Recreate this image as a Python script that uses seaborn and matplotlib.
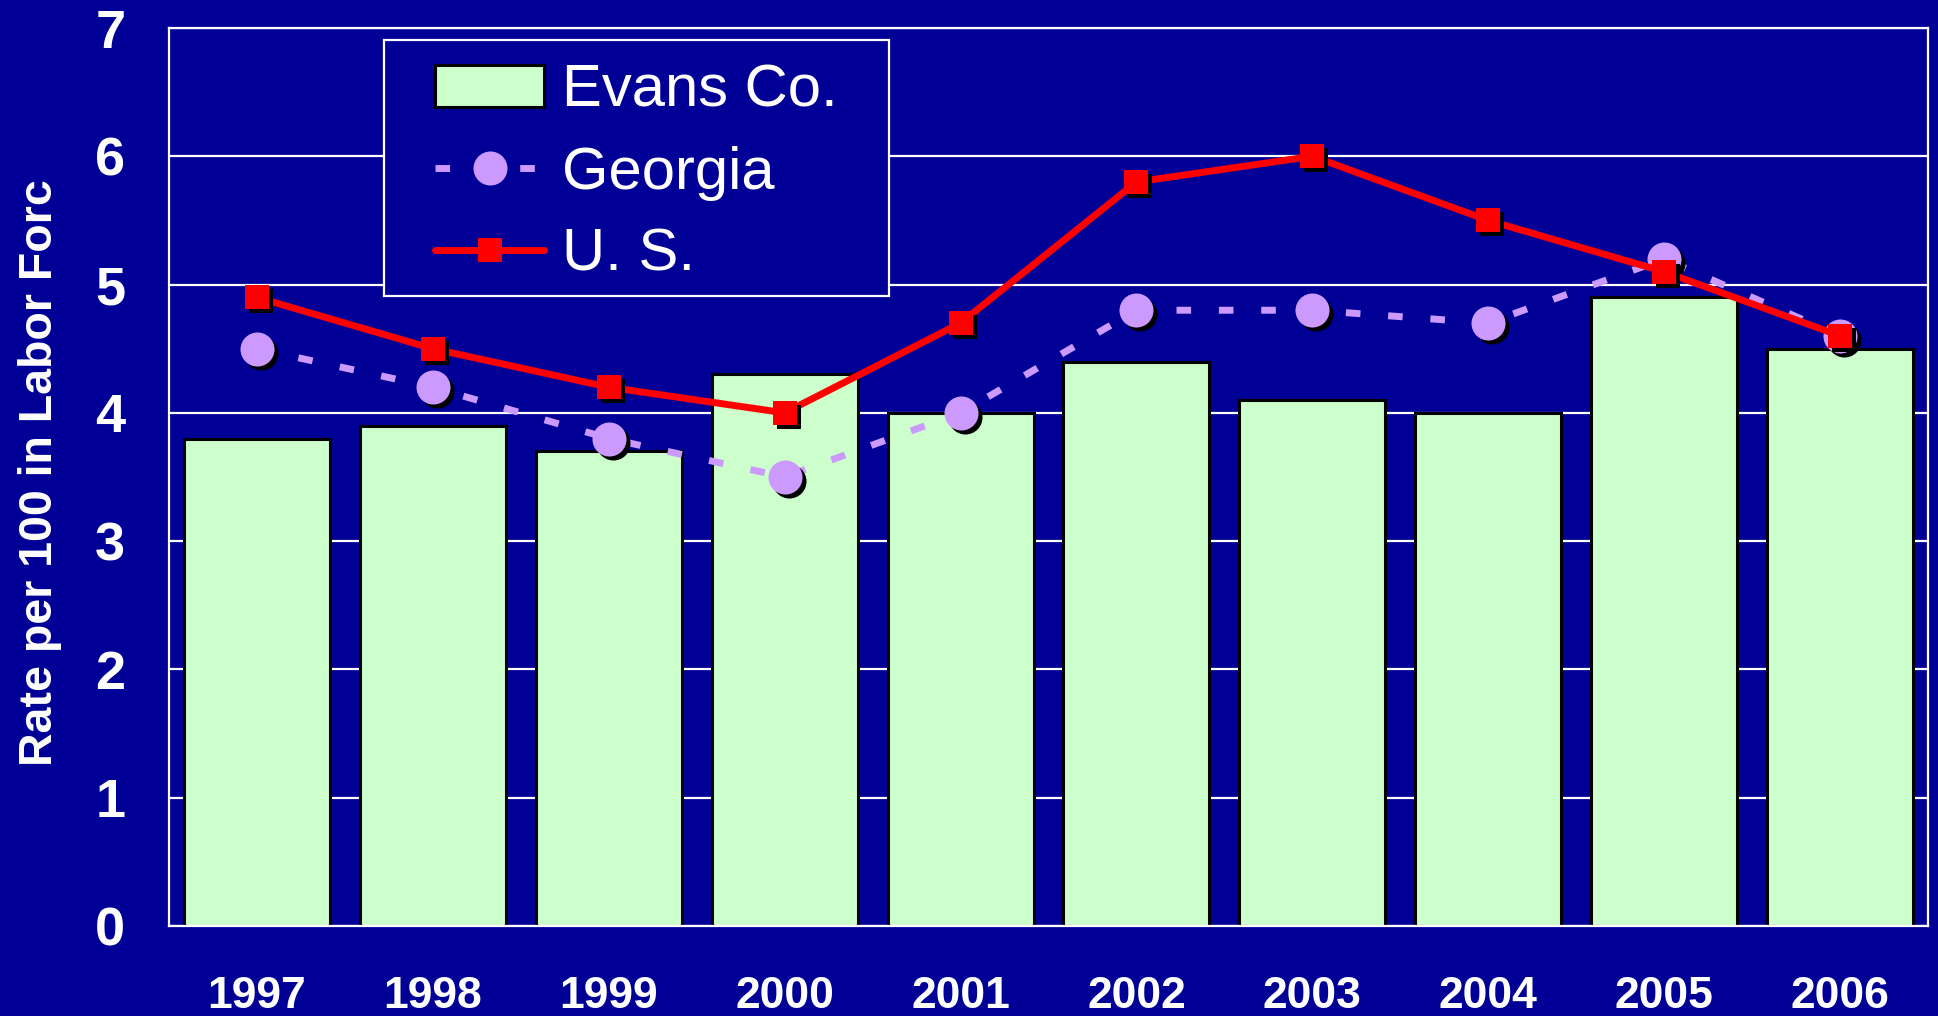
import numpy as np
import pandas as pd
import matplotlib
matplotlib.use("Agg")
import matplotlib.pyplot as plt
import seaborn as sns
from matplotlib.transforms import ScaledTranslation
from matplotlib.patches import Rectangle
from matplotlib.lines import Line2D

# ---------------- data ----------------
years = ["1997", "1998", "1999", "2000", "2001", "2002", "2003", "2004", "2005", "2006"]
evans = [3.8, 3.9, 3.7, 4.3, 4.0, 4.4, 4.1, 4.0, 4.9, 4.5]
georgia = [4.5, 4.2, 3.8, 3.5, 4.0, 4.8, 4.8, 4.7, 5.2, 4.6]
us = [4.9, 4.5, 4.2, 4.0, 4.7, 5.8, 6.0, 5.5, 5.1, 4.6]
series_names = ["Evans Co.", "Georgia", "U. S."]
y_ticks = [0, 1, 2, 3, 4, 5, 6, 7]
y_label = "Rate per 100 in Labor Forc"

# ---------------- style ----------------
BG = "#000096"
BAR = "#CCFFCC"
GA = "#CC99FF"
RED = "#FF0000"
WHITE = "white"

sns.set_style("white")
plt.rcParams["font.family"] = ["Liberation Sans", "DejaVu Sans"]

df = pd.DataFrame({"year": years, "evans": evans, "georgia": georgia, "us": us})
pos = np.arange(len(years))

fig = plt.figure(figsize=(19.38, 10.16), dpi=100, facecolor=BG)
ax = fig.add_axes([169 / 1938, 1 - 926 / 1016, 1759 / 1938, 898 / 1016])
ax.set_facecolor(BG)
ax.set_axisbelow(True)

# bars
sns.barplot(data=df, x="year", y="evans", color=BAR, saturation=1, width=0.83,
            edgecolor="black", linewidth=2.2, ax=ax, zorder=2, label=series_names[0])

shadow = ax.transData + ScaledTranslation(4 / 100, -4 / 100, fig.dpi_scale_trans)

# Georgia: dashed line, marker shadows, markers
ga_dash = (2.1, 4.0)
sns.pointplot(data=df, x="year", y="georgia", color=GA, errorbar=None, markers="",
              linewidth=5, dashes=ga_dash, ax=ax, zorder=3)
ax.plot(pos, georgia, ls="none", marker="o", ms=24.5, mew=0, color="black",
        transform=shadow, zorder=3.2)
sns.pointplot(data=df, x="year", y="georgia", color=GA, errorbar=None, markers="o",
              linestyles="none", markersize=24.5, markeredgewidth=0, ax=ax, zorder=3.4)

# U.S.: solid line, marker shadows, markers
sns.pointplot(data=df, x="year", y="us", color=RED, errorbar=None, markers="",
              linewidth=5, solid_capstyle="round", ax=ax, zorder=3.6)
ax.plot(pos, us, ls="none", marker="s", ms=17, mew=0, color="black",
        transform=shadow, zorder=3.7)
sns.pointplot(data=df, x="year", y="us", color=RED, errorbar=None, markers="s",
              linestyles="none", markersize=17, markeredgewidth=0, ax=ax, zorder=3.8)

# axes limits / ticks
ax.set_xlim(-0.5, len(years) - 0.5)
ax.set_ylim(0, 7)
ax.set_yticks(y_ticks)
ax.set_xticks(pos)
ax.set_xticklabels(years)
ax.set_xticks(np.arange(len(years) + 1) - 0.5, minor=True)
ax.grid(axis="y", color=WHITE, linewidth=1.6)
ax.grid(axis="x", visible=False)
for s in ["left", "right", "top", "bottom"]:
    ax.spines[s].set_visible(True)
    ax.spines[s].set_color(WHITE)
    ax.spines[s].set_linewidth(1.6)
    ax.spines[s].set_zorder(5)

ax.tick_params(axis="x", which="major", length=0, pad=36, labelsize=32,
               labelcolor=WHITE)
ax.tick_params(axis="x", which="minor", direction="inout", length=22, width=1.6,
               color=WHITE)
ax.tick_params(axis="y", which="major", direction="inout", length=29, width=1.6,
               color=WHITE, pad=17, labelsize=39, labelcolor=WHITE)
for lab in ax.get_xticklabels() + ax.get_yticklabels():
    lab.set_fontweight("bold")

ax.set_xlabel("")
ax.set_ylabel(y_label, fontsize=33.5, fontweight="bold", color=WHITE)
ax.yaxis.set_label_coords(-0.061, 0.505)

# legend frame (drawn separately so padding can match)
frame = Rectangle((0.1222, 0.7016), 0.2871, 0.2850, transform=ax.transAxes,
                  facecolor=BG, edgecolor=WHITE, linewidth=1.6, zorder=6)
ax.add_patch(frame)

bar_handle = ax.containers[0]
ga_handle = Line2D([], [], color=GA, linewidth=5, dashes=ga_dash, marker="o",
                   markersize=24.5, markeredgewidth=0)
us_handle = Line2D([], [], color=RED, linewidth=5, solid_capstyle="round",
                   marker="s", markersize=17, markeredgewidth=0)
leg = ax.legend([bar_handle, ga_handle, us_handle], series_names,
                loc="upper left", bbox_to_anchor=(0.1512, 0.960),
                frameon=False, borderpad=0, borderaxespad=0,
                handlelength=1.83, handleheight=0.7, handletextpad=0.3,
                labelspacing=0.45,
                prop={"family": ["Liberation Sans", "DejaVu Sans"], "size": 43})
for t in leg.get_texts():
    t.set_color(WHITE)
leg.set_zorder(7)

fig.savefig("out.png", dpi=100, facecolor=BG)
